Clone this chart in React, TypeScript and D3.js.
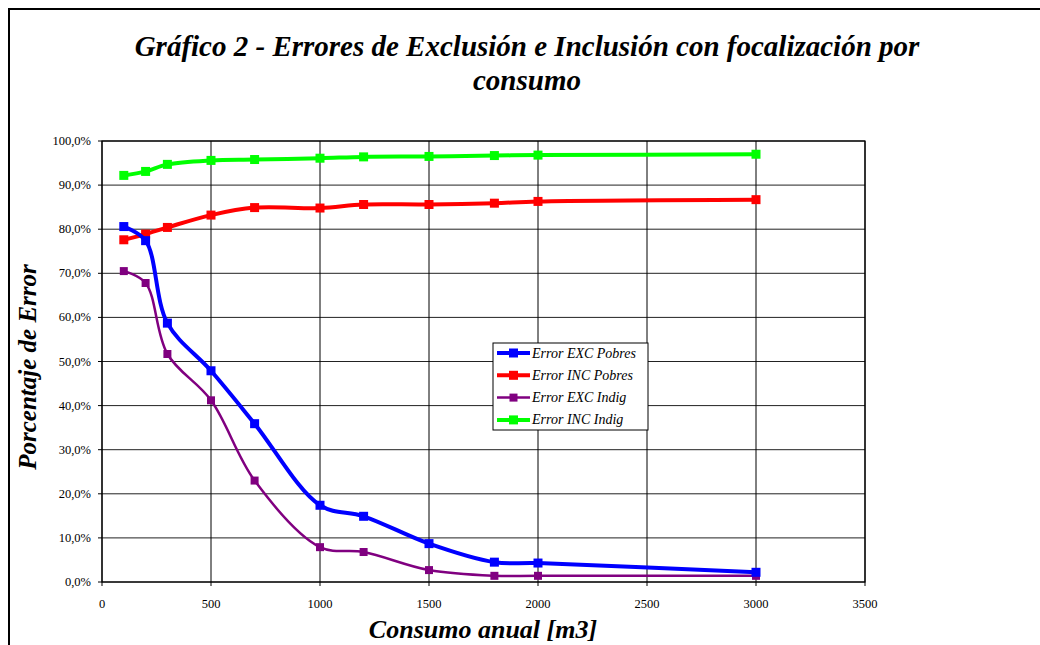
import React from "react";
import * as d3 from "d3";

const consumo = [100, 200, 300, 500, 700, 1000, 1200, 1500, 1800, 2000, 3000];
const excPobres = [80.6, 77.4, 58.7, 47.9, 35.9, 17.4, 14.9, 8.7, 4.5, 4.3, 2.2];
const incPobres = [77.6, 78.9, 80.4, 83.2, 84.9, 84.8, 85.6, 85.6, 85.9, 86.3, 86.7];
const excIndig = [70.5, 67.8, 51.7, 41.2, 23.0, 7.9, 6.8, 2.7, 1.4, 1.4, 1.4];
const incIndig = [92.2, 93.1, 94.7, 95.6, 95.8, 96.1, 96.4, 96.5, 96.7, 96.8, 97.0];
const seriesNames = ["Error EXC Pobres", "Error INC Pobres", "Error EXC Indig", "Error INC Indig"];
const seriesColors = ["#0000ff", "#ff0000", "#800080", "#00ff00"];
const xTicks = [0, 500, 1000, 1500, 2000, 2500, 3000, 3500];
const yTicks = [0, 10, 20, 30, 40, 50, 60, 70, 80, 90, 100];

const W = 1040, H = 645;
const L = 102, R = 865, T = 141, B = 582;

export default function App() {
  const x = d3.scaleLinear().domain([0, 3500]).range([L, R]);
  const y = d3.scaleLinear().domain([0, 100]).range([B, T]);
  const serie = [excPobres, incPobres, excIndig, incIndig];
  const widths = [4, 4, 2.5, 4];
  const msize = [9, 9, 8, 9];
  const line = d3.line<number>().x((_, i) => x(consumo[i])).y((d) => y(d)).curve(d3.curveCatmullRom.alpha(0.5));
  const font = "Liberation Serif, Times New Roman, serif";
  const fmt = (v: number) => v.toFixed(1).replace(".", ",") + "%";
  const drawOrder = [3, 1, 2, 0];
  const legX = 493, legY = 343;
  return (
    <svg width={W} height={H} style={{ position: "absolute", left: 0, top: 0, background: "#fff", fontFamily: font }}>
      <rect x={0} y={0} width={W} height={H} fill="#fff" />
      <path d={`M9,${H + 5} V9 H${W + 5}`} fill="none" stroke="#000" strokeWidth={2} />
      <text x={527} y={56} textAnchor="middle" fontSize={29} fontWeight="bold" fontStyle="italic">Gráfico 2 - Errores de Exclusión e Inclusión con focalización por</text>
      <text x={527} y={90} textAnchor="middle" fontSize={29} fontWeight="bold" fontStyle="italic">consumo</text>
      {yTicks.map((t) => (
        <g key={"y" + t}>
          <line x1={L} x2={R} y1={y(t)} y2={y(t)} stroke="#222" strokeWidth={1} />
          <line x1={L - 4} x2={L} y1={y(t)} y2={y(t)} stroke="#000" strokeWidth={1} />
          <text x={91} y={y(t) + 4} textAnchor="end" fontSize={12.5}>{fmt(t)}</text>
        </g>
      ))}
      {xTicks.map((t) => (
        <g key={"x" + t}>
          <line x1={x(t)} x2={x(t)} y1={T} y2={B} stroke="#000" strokeWidth={1} />
          <line x1={x(t)} x2={x(t)} y1={B} y2={B + 4} stroke="#000" strokeWidth={1} />
          <text x={x(t)} y={608} textAnchor="middle" fontSize={12.5}>{t}</text>
        </g>
      ))}
      <rect x={L} y={T} width={R - L} height={B - T} fill="none" stroke="#000" strokeWidth={1.2} />
      {drawOrder.map((si) => (
        <g key={"s" + si}>
          <path d={line(serie[si]) || ""} fill="none" stroke={seriesColors[si]} strokeWidth={widths[si]} strokeLinejoin="round" />
          {serie[si].map((v, i) => (
            <rect key={i} x={x(consumo[i]) - msize[si] / 2} y={y(v) - msize[si] / 2} width={msize[si]} height={msize[si]} fill={seriesColors[si]} />
          ))}
        </g>
      ))}
      <rect x={legX} y={legY} width={155} height={87} fill="#fff" stroke="#000" strokeWidth={1} />
      {seriesNames.map((n, i) => {
        const cy = legY + 10 + i * 22.3;
        return (
          <g key={"l" + i}>
            <line x1={legX + 4} x2={legX + 37} y1={cy} y2={cy} stroke={seriesColors[i]} strokeWidth={widths[i]} />
            <rect x={legX + 20.5 - msize[i] / 2} y={cy - msize[i] / 2} width={msize[i]} height={msize[i]} fill={seriesColors[i]} />
            <text x={legX + 39} y={cy + 4.5} fontSize={14} fontStyle="italic">{n}</text>
          </g>
        );
      })}
      <text transform={`translate(36,367) rotate(-90)`} textAnchor="middle" fontSize={25} fontWeight="bold" fontStyle="italic">Porcentaje de Error</text>
      <text x={483} y={638} textAnchor="middle" fontSize={26} fontWeight="bold" fontStyle="italic">Consumo anual [m3]</text>
    </svg>
  );
}
